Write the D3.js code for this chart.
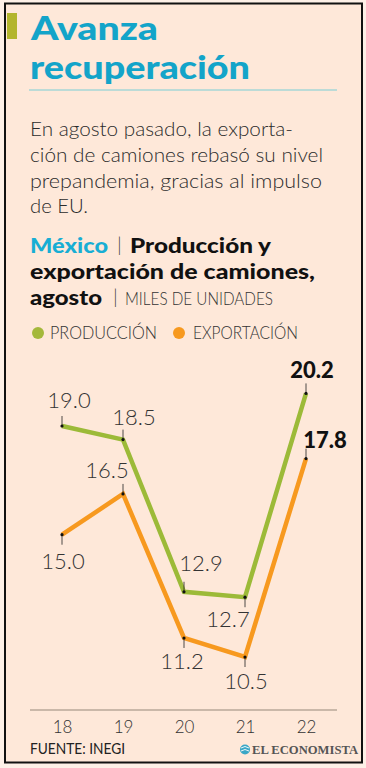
<!DOCTYPE html>
<html><head><meta charset="utf-8">
<script src="https://cdn.jsdelivr.net/npm/d3@7"></script>
<style>
html,body{margin:0;padding:0;background:#fdf1e8;}
svg{display:block;}
</style></head>
<body>
<script>
// ---- data ----
const years = ["18", "19", "20", "21", "22"];
const produccion = [19.0, 18.5, 12.9, 12.7, 20.2];
const exportacion = [15.0, 16.5, 11.2, 10.5, 17.8];
const seriesNames = ["PRODUCCIÓN", "EXPORTACIÓN"];

// ---- label placement (style) ----
const prodLabel = {dx: [7, 11, 17, -17, 6], dy: [-18, -15, -21, 30, -15]};
const expLabel = {dx: [1, -16, -2, 1, 19], dy: [34, -16, 31, 32, -11]};

const W = 366, H = 768;
const svg = d3.select("body").append("svg").attr("width", W).attr("height", H);

const BG = "#fee8d9", GREEN = "#9cba38", ORANGE = "#f7991f", BLUE = "#13a4c9", TXT = "#2b2b2b";

svg.append("rect").attr("x", 0).attr("y", 0).attr("width", W).attr("height", H).attr("fill", "#fdf0e7");
svg.append("rect").attr("x", 5).attr("y", 3.5).attr("width", 357).attr("height", 759)
  .attr("fill", BG).attr("stroke", "#111").attr("stroke-width", 2);

// accent bar
svg.append("rect").attr("x", 7).attr("y", 13).attr("width", 10).attr("height", 26).attr("fill", "#b3b52c");

function txt(s, x, y, size, weight, color, len, family, anchor) {
  const t = svg.append("text").attr("x", x).attr("y", y).text(s)
    .attr("font-family", family || "Lato, 'Open Sans', sans-serif")
    .attr("font-size", size).attr("font-weight", weight).attr("fill", color)
    .attr("text-anchor", anchor || "start");
  if (len) t.attr("textLength", len).attr("lengthAdjust", "spacingAndGlyphs");
  return t;
}

// title
txt("Avanza", 31, 40, 33, 900, BLUE, 127);
txt("recuperación", 30, 79, 33, 900, BLUE, 220);
svg.append("line").attr("x1", 29).attr("x2", 337).attr("y1", 90).attr("y2", 90)
  .attr("stroke", "#a6d7d6").attr("stroke-width", 1.5);

// body
txt("En agosto pasado, la exporta-", 30, 136, 20, 300, TXT, 263);
txt("ción de camiones rebasó su nivel", 30, 162, 20, 300, TXT, 293);
txt("prepandemia, gracias al impulso", 30, 188, 20, 300, TXT, 292);
txt("de EU.", 30, 213, 20, 300, TXT, 58);

// subtitle
txt("México", 30, 253, 20, 900, "#18aed4", 78);
txt("|", 117, 252, 20, 300, "#444");
txt("Producción y", 130, 253, 20, 900, "#111", 141);
txt("exportación de camiones,", 30, 279, 20, 900, "#111", 285);
txt("agosto", 30, 305, 20, 900, "#111", 72);
txt("|", 113, 304, 20, 300, "#444");
txt("MILES DE UNIDADES", 125, 305, 17, 300, "#333", 148);

// legend
svg.append("circle").attr("cx", 38).attr("cy", 333).attr("r", 6).attr("fill", "#a4b83b");
txt(seriesNames[0], 50, 339, 18, 300, "#333", 107);
svg.append("circle").attr("cx", 179).attr("cy", 333).attr("r", 6).attr("fill", ORANGE);
txt(seriesNames[1], 193, 339, 18, 300, "#333", 105);

// scales
const x = d3.scalePoint().domain(years).range([62, 306]);
const y = d3.scaleLinear().domain([10.5, 20.2]).range([657, 393.4]);

// axis
const axis = svg.append("g").attr("transform", "translate(0,710)")
  .call(d3.axisBottom(x).tickSize(0).tickPadding(10));
axis.select(".domain").remove();
axis.selectAll("text").attr("font-family", "Lato, sans-serif").attr("font-size", 17)
  .attr("font-weight", 300).attr("fill", "#333").attr("dy", "0.71em").attr("y", 11);
svg.append("line").attr("x1", 30).attr("x2", 337).attr("y1", 710).attr("y2", 710)
  .attr("stroke", "#b9a999").attr("stroke-width", 1.5);

const line = d3.line().x((d, i) => x(years[i])).y(d => y(d));

function drawSeries(vals, color, lab) {
  svg.append("path").datum(vals).attr("d", line).attr("fill", "none")
    .attr("stroke", color).attr("stroke-width", 4.5).attr("stroke-linejoin", "miter");
  vals.forEach((v, i) => {
    const px = x(years[i]), py = y(v);
    const dy = lab.dy[i];
    const tickEnd = dy < 0 ? py - 10 : py + 10;
    svg.append("line").attr("x1", px).attr("x2", px).attr("y1", py).attr("y2", tickEnd)
      .attr("stroke", "#222").attr("stroke-width", 0.8);
    svg.append("circle").attr("cx", px).attr("cy", py).attr("r", 1.6).attr("fill", "#111");
    const last = i === vals.length - 1;
    svg.append("text").attr("x", px + lab.dx[i]).attr("y", py + dy)
      .attr("text-anchor", "middle").text(v.toFixed(1))
      .attr("font-family", "Lato, sans-serif").attr("font-size", 22)
      .attr("font-weight", last ? 900 : 300).attr("fill", last ? "#111" : "#333");
  });
}
drawSeries(produccion, GREEN, prodLabel);
drawSeries(exportacion, ORANGE, expLabel);

// footer
txt("FUENTE: INEGI", 30, 754, 15, 400, "#222", 95);
svg.append("circle").attr("cx", 245).attr("cy", 749.5).attr("r", 5).attr("fill", "#3aa7c6");
svg.append("path").attr("d", "M241,748 q4,-3 8,0 M241,751 q4,-3 8,0").attr("stroke", "#fff")
  .attr("stroke-width", 0.9).attr("fill", "none");
txt("EL ECONOMISTA", 252, 754, 13, 700, "#555", 106, "'Liberation Serif', 'DejaVu Serif', serif");
</script>
</body></html>
